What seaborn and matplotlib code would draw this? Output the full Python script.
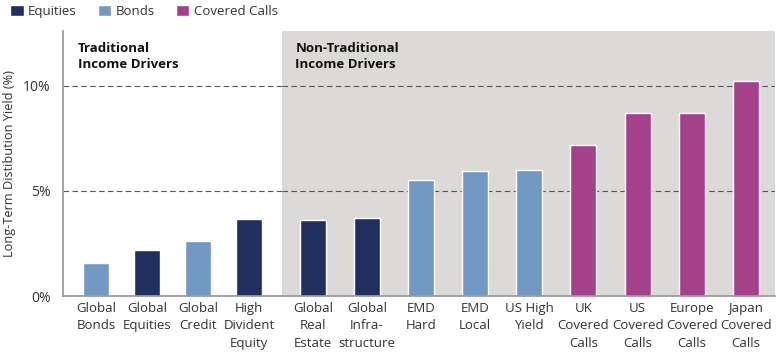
import numpy as np
import pandas as pd
import matplotlib.pyplot as plt
import seaborn as sns
from matplotlib.patches import Patch

# Chart data
labels_traditional = ["Global\nBonds", "Global\nEquities", "Global\nCredit", "High\nDivident\nEquity"]
values_traditional = [1.56, 2.22, 2.62, 3.66]
types_traditional = ["Bonds", "Equities", "Bonds", "Equities"]

labels_non_traditional = ["Global\nReal\nEstate", "Global\nInfra-\nstructure", "EMD\nHard", "EMD\nLocal",
                          "US High\nYield", "UK\nCovered\nCalls", "US\nCovered\nCalls",
                          "Europe\nCovered\nCalls", "Japan\nCovered\nCalls"]
values_non_traditional = [3.62, 3.72, 5.54, 5.95, 6.01, 7.18, 8.69, 8.69, 10.22]
types_non_traditional = ["Equities", "Equities", "Bonds", "Bonds", "Bonds",
                         "Covered Calls", "Covered Calls", "Covered Calls", "Covered Calls"]

section_titles = ["Traditional\nIncome Drivers", "Non-Traditional\nIncome Drivers"]
yticks = [0, 5, 10]
ytick_labels = ["0%", "5%", "10%"]

palette = {"Equities": "#20305e", "Bonds": "#7298c4", "Covered Calls": "#a5408b"}

sns.set_theme(style="white")
plt.rcParams['font.family'] = ['Open Sans', 'DejaVu Sans']

df_left = pd.DataFrame({"label": labels_traditional, "value": values_traditional, "type": types_traditional})
df_right = pd.DataFrame({"label": labels_non_traditional, "value": values_non_traditional, "type": types_non_traditional})

fig = plt.figure(figsize=(7.8, 3.64), dpi=100)
ax_left = fig.add_axes([0.0808, 0.186, 0.2808, 0.729])
ax_right = fig.add_axes([0.3616, 0.186, 0.632, 0.729], sharey=ax_left)

sns.barplot(data=df_left, x="label", y="value", hue="type", palette=palette,
            dodge=False, width=0.51, legend=False, ax=ax_left, saturation=1)
sns.barplot(data=df_right, x="label", y="value", hue="type", palette=palette,
            dodge=False, width=0.48, legend=False, ax=ax_right, saturation=1)

ax_left.set_xlim(-0.65, 3.65)
ax_right.set_xlim(-0.57, 8.54)
ax_left.set_ylim(0, 12.6)
ax_right.set_facecolor("#dcdad8")

for ax, title in zip([ax_left, ax_right], section_titles):
    for y in yticks[1:]:
        ax.axhline(y, color="#555555", linestyle=(0, (5, 3)), linewidth=0.8, zorder=0.5)
    ax.set_xlabel("")
    ax.set_ylabel("")
    ax.tick_params(axis="x", length=0, pad=4, labelsize=9.5, colors="#333333")
    for lbl in ax.get_xticklabels():
        lbl.set_linespacing(1.45)
    for s in ["top", "right", "left"]:
        ax.spines[s].set_visible(False)
    ax.spines["bottom"].set_color("#999999")
    ax.text(0.068 if ax is ax_left else 0.027, 0.96, title, transform=ax.transAxes,
            fontsize=9.5, fontweight="bold", va="top", ha="left", color="#111111",
            linespacing=1.3)

ax_left.spines["left"].set_visible(True)
ax_left.spines["left"].set_color("#999999")
ax_left.set_yticks(yticks)
ax_left.set_yticklabels(ytick_labels)
ax_left.tick_params(axis="y", length=0, pad=9, labelsize=10, colors="#333333")
ax_right.tick_params(axis="y", left=False, labelleft=False)
ax_left.set_ylabel("Long-Term Distibution Yield (%)", fontsize=9.2, color="#333333", labelpad=5)

handles = [Patch(facecolor=palette[k], label=k) for k in palette]
fig.legend(handles=handles, loc="upper left", bbox_to_anchor=(-0.002, 1.02), ncol=3,
           frameon=False, fontsize=9.5, handlelength=1.0, handleheight=1.0,
           handletextpad=0.35, columnspacing=1.6, labelcolor="#333333")

fig.savefig("out.png", dpi=100)
